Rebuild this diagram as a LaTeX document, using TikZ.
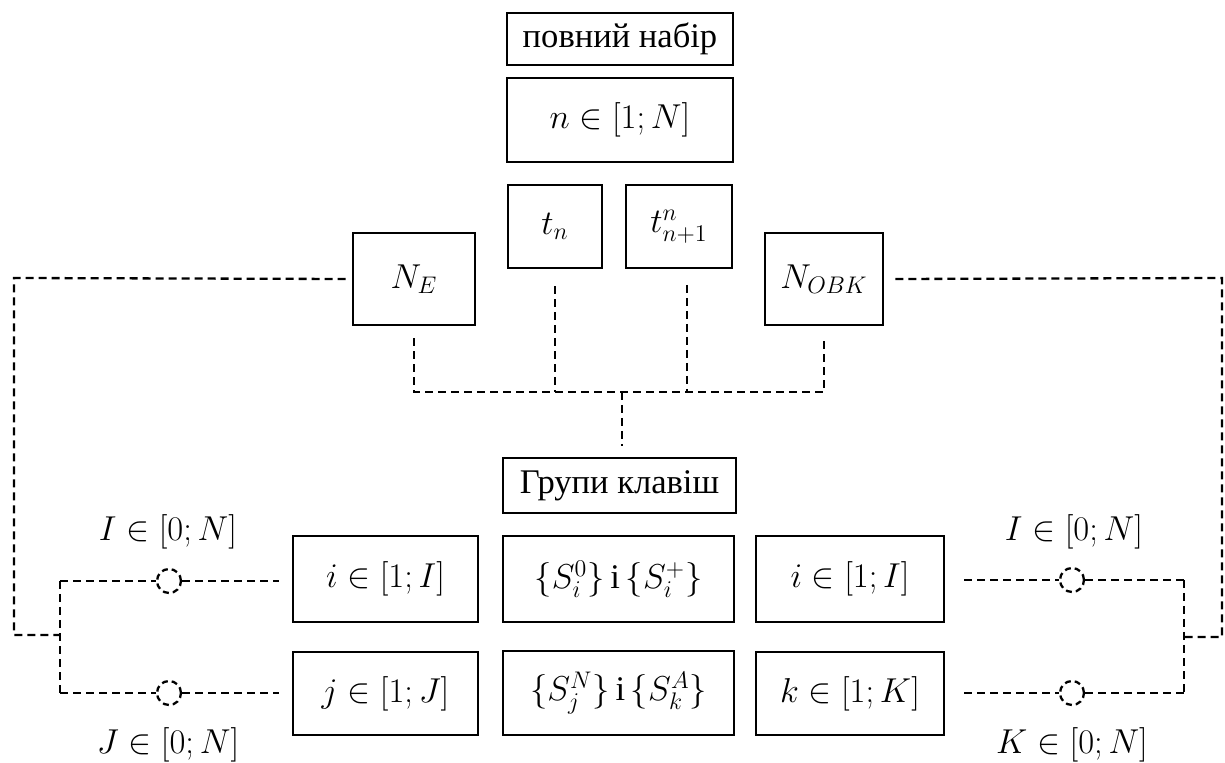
\documentclass[tikz,border=0pt]{standalone}
\usepackage{fontspec}
\setmainfont{Liberation Serif}
\begin{document}
\begin{tikzpicture}[x=0.5pt,y=-0.5pt,
  box/.style={draw, line width=1.4pt, inner sep=0pt, font=\rmfamily\fontsize{17.28}{20}\selectfont},
  lbl/.style={inner sep=0pt, font=\rmfamily\fontsize{17.28}{20}\selectfont},
  dl/.style={line width=1.15pt, dash pattern=on 4pt off 2.5pt},
  ring/.style={circle, draw, line width=1.15pt, dash pattern=on 3pt off 2pt, minimum size=12pt, inner sep=0pt}]
\useasboundingbox (0,0) rectangle (1225,763);
% top boxes
\node[box, minimum width=113pt, minimum height=26pt] (full) at (620,39) {повний набір};
\node[box, minimum width=113pt, minimum height=42pt] (nset) at (620,120) {$n\in[1;N]$};
\node[box, minimum width=47pt, minimum height=41.5pt] (tn) at (555,226.5) {$t_n$};
\node[box, minimum width=53pt, minimum height=41.5pt] (tnn) at (679,226.5) {$t^{n}_{n+1}$};
\node[box, minimum width=61pt, minimum height=46pt] (NE) at (414,279) {$N_E$};
\node[box, minimum width=59pt, minimum height=46pt] (NO) at (824,279) {$N_{OBK}$};
% lower boxes
\node[box, minimum width=116.5pt, minimum height=27.5pt] (grp) at (619.5,485.5) {Групи клавіш};
\node[box, minimum width=115.5pt, minimum height=43pt] (S1) at (618.5,579) {$\bigl\{S_i^0\bigr\}$\,і\,$\bigl\{S_i^+\bigr\}$};
\node[box, minimum width=115.5pt, minimum height=42pt] (S2) at (618.5,693) {$\bigl\{S_j^N\bigr\}$\,і\,$\bigl\{S_k^A\bigr\}$};
\node[box, minimum width=92.5pt, minimum height=43pt] (iL) at (385.5,579) {$i\in[1;I]$};
\node[box, minimum width=92.5pt, minimum height=41.5pt] (jL) at (385.5,693.5) {$j\in[1;J]$};
\node[box, minimum width=94pt, minimum height=43pt] (iR) at (850,579) {$i\in[1;I]$};
\node[box, minimum width=94pt, minimum height=41.5pt] (kR) at (850,693.5) {$k\in[1;K]$};
% rings
\node[ring] (cL1) at (169,581) {};
\node[ring] (cL2) at (169,693) {};
\node[ring] (cR1) at (1072,580) {};
\node[ring] (cR2) at (1072,693) {};
% labels
\node[lbl] (lI1) at (168,532) {$I\in[0;N]$};
\node[lbl] (lJ) at (168,745) {$J\in[0;N]$};
\node[lbl] (lI2) at (1074,532) {$I\in[0;N]$};
\node[lbl] (lK) at (1072,745) {$K\in[0;N]$};
% coordinates
\coordinate (bL) at (414,392);
\coordinate (bR) at (824,392);
\coordinate (bC) at (622,392);
\coordinate (ltop) at (14,278);
\coordinate (lbot) at (14,635);
\coordinate (lj) at (60,635);
\coordinate (la) at (60,581);
\coordinate (lb) at (60,693);
\coordinate (rtop) at (1222,278);
\coordinate (rbot) at (1222,637);
\coordinate (rj) at (1184,637);
\coordinate (ra) at (1184,580);
\coordinate (rb) at (1184,693);
% bus
\draw[dl] ([yshift=-6pt]NE.south) -- (bL) -- (bR) -- ([yshift=-6pt]NO.south);
\draw[dl] ([yshift=-8.5pt]tn.south) -- (555,392);
\draw[dl] (687,285) -- (687,392);
\draw[dl] (bC) -- ([xshift=1.25pt,yshift=5.5pt]grp.north);
% left side
\draw[dl] ([xshift=-3pt]NE.west) -- (ltop) -- (lbot) -- (lj);
\draw[dl] (la) -- (lb);
\draw[dl] (la) -- (cL1.west);
\draw[dl] (cL1.east) -- ([xshift=-6.5pt]iL.west |- cL1.east);
\draw[dl] (lb) -- (cL2.west);
\draw[dl] (cL2.east) -- ([xshift=-6.5pt]jL.west |- cL2.east);
% right side
\draw[dl] ([xshift=5.5pt]NO.east) -- (rtop) -- (rbot) -- (rj);
\draw[dl] (ra) -- (rb);
\draw[dl] ([xshift=9.5pt]iR.east |- cR1.west) -- (cR1.west);
\draw[dl] (cR1.east) -- (ra);
\draw[dl] ([xshift=9.5pt]kR.east |- cR2.west) -- (cR2.west);
\draw[dl] (cR2.east) -- (rb);
\end{tikzpicture}
\end{document}
